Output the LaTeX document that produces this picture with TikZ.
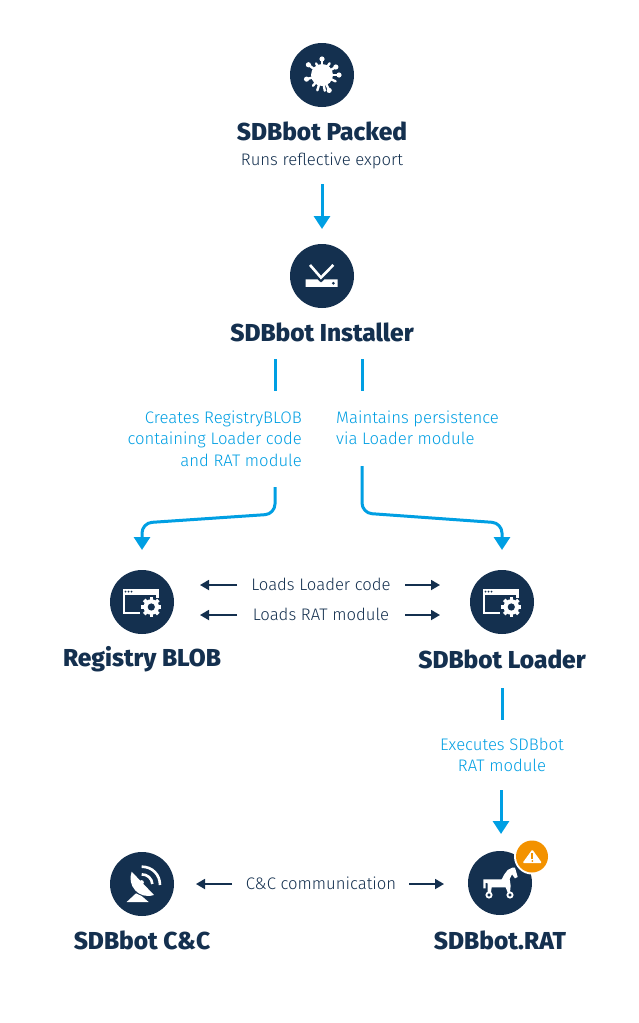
\documentclass[tikz,border=0pt]{standalone}
\usepackage{fontspec}
\setmainfont{Fira Sans Light}[BoldFont={Fira Sans ExtraBold}]
\usetikzlibrary{arrows.meta,calc}
\definecolor{navy}{HTML}{14304F}
\definecolor{sky}{HTML}{009FE3}
\definecolor{amber}{HTML}{F39200}
\tikzset{
  iconball/.style={circle,fill=navy,draw=none,minimum size=64pt,inner sep=0},
  heading/.style={inner sep=0,text=navy,font=\fontsize{24.5}{26}\selectfont\bfseries},
  darktext/.style={inner sep=0,text=navy,font=\fontsize{16.7}{21.5}\selectfont},
  skytext/.style={inner sep=0,text=sky,font=\fontsize{16.7}{21.5}\selectfont},
  skyline/.style={draw=sky,line width=3pt},
  skyarrow/.style={skyline,-{Triangle[width=16pt,length=13pt]}},
  darkarrow/.style={draw=navy,line width=1.8pt,-{Triangle[width=10pt,length=9pt]}},
}
\newcommand{\windowgear}[2]{%
  \begin{scope}[shift={(#1,#2)}]
    \fill[white] (-19.5,-13) rectangle (16.5,-7);
    \foreach \q in {-16.5,-13.5,-10.5}{\fill[navy] (\q,-10.3) circle (1pt);}
    \fill[white] (-19.5,-8) rectangle (-17.4,11.8);
    \fill[white] (-19.5,9.7) rectangle (-2,11.8);
    \fill[white] (14.4,-8) rectangle (16.5,-4);
    \foreach \a in {0,45,...,315}{\fill[white,rotate around={\a:(9.3,5)}] (7.5,-5) rectangle (11.1,0);}
    \fill[white] (9.3,5) circle (7.8pt);
    \fill[navy] (9.3,5) circle (3.6pt);
  \end{scope}}
\begin{document}
\begin{tikzpicture}[x=1pt,y=-1pt]
\useasboundingbox[fill=white] (0,0) rectangle (638,1023);
% balls
\node[iconball] (packedball) at (322,75) {};
\node[iconball] (installerball) at (322,276) {};
\node[iconball] (blobball) at (142,602) {};
\node[iconball] (loaderball) at (502,602) {};
\node[iconball] (ccball) at (142,884) {};
\node[iconball] (ratball) at (500,883) {};
% splat
\fill[white] (322,75) circle (11pt);
\foreach \a/\r in {90/16,57/14,30/16,0/17,-25/15,-65/17,-80/16,-107/16,-130/14,-165/16,143/17,117/13}{
  \draw[white,line width=2.4pt,line cap=round] (322,75) -- ($(322,75)+(\a:\r pt)$);
}
\foreach \a/\r in {90/16,0/17,-65/17,-165/16,143/17,30/16}{
  \fill[white] ($(322,75)+(\a:\r pt)$) circle (2.6pt);
}
% installer icon
\begin{scope}[shift={(220,30)},x=0.3333pt,y=-0.3333pt]
  \draw[white,line width=2.6pt] (270,705) -- (303,743) -- (340,705);
  \fill[white] (257,748) -- (292,748) -- (303,758) -- (314,748) -- (353,748) -- (353,771) -- (257,771) -- cycle;
  \fill[navy] (340,760) circle (1.5pt);
\end{scope}
\windowgear{142}{602}
\windowgear{502}{602}
% dish
\begin{scope}[shift={(60,840)},x=0.3333pt,y=-0.3333pt]
  \fill[white] (215,95) .. controls (200,135) and (235,180) .. (282,165) -- cycle;
  \fill[white] (200,186) -- (228,160) -- (245,168) -- (266,186) -- cycle;
  \draw[white,line width=2.6pt] (245,103) .. controls (262,103) and (276,115) .. (277,132);
  \draw[white,line width=2.6pt] (245,80) .. controls (278,80) and (300,105) .. (300,135);
  \fill[white] (245,127) circle (2.2pt);
\end{scope}
% horse
\begin{scope}[shift={(465,845)},x=0.3333pt,y=-0.3333pt]
  \fill[white] (55,103) -- (110,103) -- (118,88) -- (128,75) -- (142,68) -- (150,68) -- (155,85) -- (158,96) -- (150,100) -- (141,88) -- (134,102) -- (137,122) -- (135,142) -- (128,142) -- (122,127) -- (80,127) -- (78,142) -- (68,142) -- (68,115) -- (62,113) -- (62,130) -- (55,130) -- cycle;
  \draw[white,line width=1.8pt] (72,150) circle (2.6pt) (135,150) circle (2.6pt);
\end{scope}
% badge
\fill[white] (532,856.5) circle (18pt);
\fill[amber] (532,856.5) circle (16pt);
\fill[white,rounded corners=1.2pt] (522.5,863) -- (532.3,849.5) -- (542,863) -- cycle;
\fill[amber] (531.4,853) rectangle (533.2,859);
\fill[amber] (532.3,861) circle (1pt);
% text
\node[heading] (packed) at (322,131) {SDBbot Packed};
\node[darktext] (runs) at (322,161) {Runs reflective export};
\node[heading] (installer) at (322,332) {SDBbot Installer};
\node[heading] (blob) at (142,659) {Registry BLOB};
\node[heading] (loader) at (502,659) {SDBbot Loader};
\node[heading] (cc) at (142,940) {SDBbot C\&C};
\node[heading] (rat) at (500,940) {SDBbot.RAT};
\node[skytext,anchor=east,align=right] (creates) at (302,438.5) {Creates RegistryBLOB\\containing Loader code\\and RAT module};
\node[skytext,anchor=west,align=left] (maintains) at (336,428) {Maintains persistence\\via Loader module};
\node[skytext,align=center] (executes) at (502,755) {Executes SDBbot\\RAT module};
\node[darktext] (loadcode) at (321,584.5) {Loads Loader code};
\node[darktext] (loadrat) at (321,614.5) {Loads RAT module};
\node[darktext] (ccc) at (321,883.5) {C\&C communication};
% connector ends
\coordinate (a1) at (322,184); \coordinate (a2) at (322,229);
\coordinate (b1) at (275,359); \coordinate (b2) at (275,391);
\coordinate (c1) at (362,359); \coordinate (c2) at (362,391);
\coordinate (d1) at (275,487); \coordinate (d2) at (275,514); \coordinate (d3) at (142,523); \coordinate (d4) at (142,550);
\coordinate (e1) at (362,466); \coordinate (e2) at (362,513); \coordinate (e3) at (502,523); \coordinate (e4) at (502,550);
\coordinate (f1) at (502,688); \coordinate (f2) at (502,720);
\coordinate (g1) at (501,790); \coordinate (g2) at (501,834);
\draw[skyarrow] (a1) -- (a2);
\draw[skyline] (b1) -- (b2);
\draw[skyline] (c1) -- (c2);
\draw[skyarrow,rounded corners=10pt] (d1) -- (d2) -- (d3) -- (d4);
\draw[skyarrow,rounded corners=10pt] (e1) -- (e2) -- (e3) -- (e4);
\draw[skyline] (f1) -- (f2);
\draw[skyarrow] (g1) -- (g2);
\coordinate (h1) at (237,585); \coordinate (h2) at (200,585);
\coordinate (i1) at (405,585); \coordinate (i2) at (440,585);
\coordinate (j1) at (237,615); \coordinate (j2) at (200,615);
\coordinate (k1) at (405,615); \coordinate (k2) at (440,615);
\coordinate (l1) at (232,884); \coordinate (l2) at (196,884);
\coordinate (m1) at (409,884); \coordinate (m2) at (444,884);
\draw[darkarrow] (h1) -- (h2);
\draw[darkarrow] (i1) -- (i2);
\draw[darkarrow] (j1) -- (j2);
\draw[darkarrow] (k1) -- (k2);
\draw[darkarrow] (l1) -- (l2);
\draw[darkarrow] (m1) -- (m2);
\end{tikzpicture}
\end{document}
